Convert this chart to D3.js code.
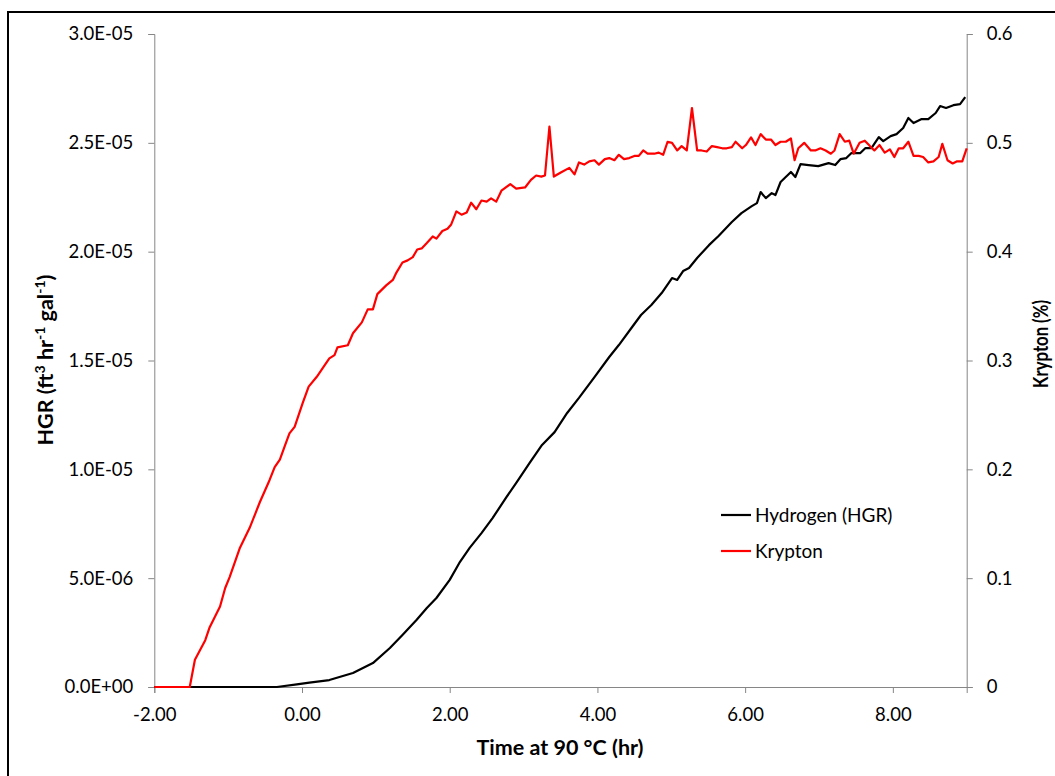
<!DOCTYPE html>
<html>
<head>
<meta charset="utf-8">
<script src="https://cdn.jsdelivr.net/npm/d3@7"></script>
<style>
  body { margin: 0; background: #fff; }
  svg text { font-family: Lato, "Open Sans", sans-serif; fill: #000; }
</style>
</head>
<body>
<svg id="chart" width="1055" height="776"></svg>
<script>
(function(){
    // x tick values + labels (hours at 90 C)
    var xTicks = [-2, 0, 2, 4, 6, 8];
    var xTickLabels = ['-2.00', '0.00', '2.00', '4.00', '6.00', '8.00'];
    // left axis, HGR in units of 1e-6
    var hgrTicks = [0, 5, 10, 15, 20, 25, 30];
    var hgrTickLabels = ['0.0E+00', '5.0E-06', '1.0E-05', '1.5E-05', '2.0E-05', '2.5E-05', '3.0E-05'];
    // right axis, krypton %
    var krTicks = [0, 0.1, 0.2, 0.3, 0.4, 0.5, 0.6];
    var krTickLabels = ['0', '0.1', '0.2', '0.3', '0.4', '0.5', '0.6'];

    // Hydrogen (HGR) - time (hr) and value (x1e-6 ft3 hr-1 gal-1)
    var hgrTime = [-2.00,-0.34,-0.07,0.10,0.37,0.69,0.96,1.19,1.36,1.55,
        1.69,1.82,2.00,2.13,2.27,2.43,2.58,2.77,2.91,3.08,
        3.25,3.42,3.59,3.75,3.96,4.16,4.29,4.47,4.59,4.73,
        4.87,5.01,5.08,5.16,5.24,5.35,5.51,5.64,5.82,5.95,
        6.09,6.16,6.21,6.28,6.36,6.41,6.48,6.62,6.68,6.75,
        6.86,6.99,7.13,7.22,7.29,7.37,7.44,7.56,7.63,7.71,
        7.81,7.87,7.97,8.05,8.14,8.21,8.28,8.39,8.48,8.58,
        8.64,8.72,8.82,8.91,8.98];
    var hgrValue = [0,0,0.12,0.20,0.32,0.64,1.10,1.79,2.39,3.08,
        3.63,4.09,4.92,5.70,6.39,7.07,7.76,8.73,9.42,10.29,
        11.12,11.71,12.59,13.28,14.24,15.16,15.71,16.54,17.09,17.55,
        18.10,18.79,18.70,19.11,19.25,19.71,20.30,20.72,21.36,21.77,
        22.09,22.23,22.74,22.46,22.69,22.60,23.20,23.66,23.43,24.02,
        23.98,23.93,24.07,23.98,24.25,24.30,24.53,24.53,24.76,24.76,
        25.26,25.08,25.31,25.40,25.68,26.14,25.91,26.09,26.09,26.37,
        26.69,26.60,26.73,26.78,27.10];

    // Krypton (%) - time (hr) and value
    var krTime = [-2.00,-1.52,-1.45,-1.31,-1.25,-1.11,-1.04,-0.98,-0.84,-0.71,
        -0.57,-0.44,-0.37,-0.30,-0.23,-0.17,-0.10,0.01,0.09,0.20,
        0.28,0.37,0.44,0.48,0.62,0.69,0.81,0.89,0.96,1.02,
        1.14,1.23,1.28,1.36,1.43,1.50,1.56,1.62,1.69,1.77,
        1.82,1.90,1.97,2.02,2.09,2.16,2.23,2.29,2.36,2.43,
        2.50,2.56,2.63,2.70,2.82,2.90,3.02,3.10,3.17,3.24,
        3.29,3.35,3.41,3.51,3.62,3.69,3.75,3.82,3.89,3.96,
        4.02,4.10,4.16,4.23,4.29,4.36,4.43,4.50,4.56,4.62,
        4.68,4.77,4.83,4.89,4.95,5.01,5.08,5.14,5.21,5.28,
        5.35,5.41,5.48,5.55,5.62,5.69,5.75,5.82,5.87,5.96,
        6.01,6.08,6.14,6.21,6.28,6.35,6.41,6.48,6.55,6.62,
        6.67,6.72,6.80,6.89,6.95,7.02,7.09,7.16,7.21,7.28,
        7.35,7.41,7.47,7.55,7.62,7.69,7.75,7.82,7.89,7.96,
        8.02,8.08,8.14,8.21,8.28,8.35,8.41,8.48,8.55,8.62,
        8.67,8.74,8.81,8.87,8.94,9.00];
    var krValue = [0,0,0.025,0.043,0.055,0.074,0.091,0.101,0.128,0.146,
        0.170,0.190,0.202,0.209,0.222,0.233,0.239,0.261,0.276,0.285,
        0.293,0.302,0.305,0.312,0.314,0.325,0.335,0.347,0.347,0.361,
        0.369,0.374,0.381,0.390,0.392,0.395,0.402,0.403,0.408,0.414,
        0.412,0.419,0.421,0.425,0.437,0.434,0.436,0.445,0.439,0.447,
        0.446,0.449,0.446,0.456,0.462,0.458,0.459,0.466,0.470,0.469,
        0.470,0.515,0.469,0.473,0.477,0.471,0.482,0.480,0.483,0.484,
        0.480,0.485,0.486,0.484,0.489,0.485,0.486,0.488,0.488,0.493,
        0.490,0.490,0.491,0.489,0.501,0.500,0.493,0.497,0.493,0.532,
        0.493,0.493,0.492,0.497,0.496,0.495,0.495,0.496,0.501,0.495,
        0.498,0.505,0.498,0.508,0.503,0.503,0.498,0.501,0.501,0.504,
        0.484,0.495,0.500,0.493,0.493,0.495,0.493,0.490,0.493,0.508,
        0.501,0.502,0.490,0.500,0.502,0.497,0.493,0.498,0.491,0.494,
        0.487,0.495,0.495,0.501,0.488,0.488,0.487,0.482,0.483,0.487,
        0.499,0.484,0.481,0.483,0.483,0.495];

    var legendNames = ['Hydrogen (HGR)', 'Krypton'];
    var colors = ['#000000', '#ff0000'];

    var svg = d3.select('#chart');
    var left = 154.3, right = 966.7, top = 34, bottom = 687;
    var axisGray = '#868686';

    // outer chart border
    svg.append('rect')
        .attr('x', 8).attr('y', 12)
        .attr('width', 1060).attr('height', 780)
        .attr('fill', 'none').attr('stroke', '#000').attr('stroke-width', 2);

    var x = d3.scaleLinear().domain([-2, 9]).range([left, right]);
    var y = d3.scaleLinear().domain([0, 30]).range([bottom, top]);
    var y2 = d3.scaleLinear().domain([0, 0.6]).range([bottom, top]);

    function styleAxis(g){
        g.select('.domain').attr('stroke', axisGray).attr('stroke-width', 1);
        g.selectAll('.tick line').attr('stroke', axisGray).attr('stroke-width', 1);
        g.selectAll('.tick text').attr('font-size', 18.5).attr('fill', '#000')
            .style('font-family', 'Lato, sans-serif');
    }

    var gx = svg.append('g')
        .attr('transform', 'translate(0,' + bottom + ')')
        .call(d3.axisBottom(x).tickValues(xTicks).tickSizeOuter(0).tickSize(6).tickPadding(15)
            .tickFormat(function(d, i){ return xTickLabels[i]; }));
    styleAxis(gx);

    var gy = svg.append('g')
        .attr('transform', 'translate(' + left + ',0)')
        .call(d3.axisLeft(y).tickValues(hgrTicks).tickSizeOuter(0).tickSize(6).tickPadding(15)
            .tickFormat(function(d, i){ return hgrTickLabels[i]; }));
    styleAxis(gy);

    var gy2 = svg.append('g')
        .attr('transform', 'translate(' + right + ',0)')
        .call(d3.axisRight(y2).tickValues(krTicks).tickSizeOuter(0).tickSize(6).tickPadding(14)
            .tickFormat(function(d, i){ return krTickLabels[i]; }));
    styleAxis(gy2);

    // series
    var hgrData = hgrTime.map(function(t, i){ return [t, hgrValue[i]]; });
    var krData = krTime.map(function(t, i){ return [t, krValue[i]]; });

    svg.append('path')
        .datum(hgrData)
        .attr('fill', 'none').attr('stroke', colors[0]).attr('stroke-width', 2.2)
        .attr('stroke-linejoin', 'round')
        .attr('d', d3.line().x(function(d){ return x(d[0]); }).y(function(d){ return y(d[1]); }));

    svg.append('path')
        .datum(krData)
        .attr('fill', 'none').attr('stroke', colors[1]).attr('stroke-width', 2.2)
        .attr('stroke-linejoin', 'round')
        .attr('d', d3.line().x(function(d){ return x(d[0]); }).y(function(d){ return y2(d[1]); }));

    // axis titles
    svg.append('text')
        .attr('x', 560).attr('y', 755)
        .attr('text-anchor', 'middle')
        .attr('font-size', 21.5).attr('font-weight', 'bold')
        .text('Time at 90 °C (hr)');

    var yt = svg.append('text')
        .attr('transform', 'translate(53,360) rotate(-90)')
        .attr('text-anchor', 'middle')
        .attr('font-size', 21.5).attr('font-weight', 'bold');
    yt.append('tspan').text('HGR (ft');
    yt.append('tspan').attr('font-size', 14).attr('dy', -8).text('3');
    yt.append('tspan').attr('dy', 8).text(' hr');
    yt.append('tspan').attr('font-size', 14).attr('dy', -8).text('-1');
    yt.append('tspan').attr('dy', 8).text(' gal');
    yt.append('tspan').attr('font-size', 14).attr('dy', -8).text('-1');
    yt.append('tspan').attr('dy', 8).text(')');

    svg.append('text')
        .attr('transform', 'translate(1048,344) rotate(-90)')
        .attr('text-anchor', 'middle')
        .attr('font-size', 20).attr('font-weight', 'bold')
        .attr('textLength', 88).attr('lengthAdjust', 'spacingAndGlyphs')
        .text('Krypton (%)');

    // legend
    var legend = svg.append('g');
    legendNames.forEach(function(name, i){
        var ly = 515 + i * 36;
        legend.append('line')
            .attr('x1', 721).attr('x2', 751).attr('y1', ly).attr('y2', ly)
            .attr('stroke', colors[i]).attr('stroke-width', 2.2);
        legend.append('text')
            .attr('x', 755).attr('y', ly).attr('dy', '0.35em')
            .attr('font-size', 19)
            .text(name);
    });
})();
</script>
</body>
</html>
